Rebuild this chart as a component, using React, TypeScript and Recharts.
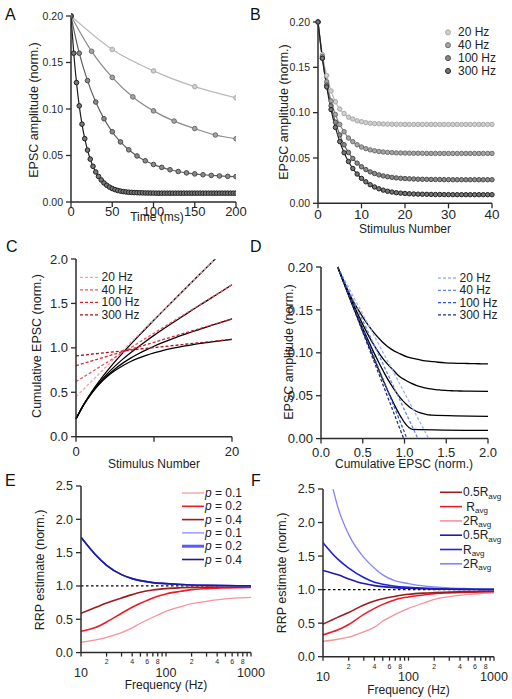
import React from 'react';
import { LineChart, Line, XAxis, YAxis, ReferenceLine } from 'recharts';

const FONT = '"Liberation Sans", Arial, Helvetica, sans-serif';

// ---------- data ----------
const FREQ_LABELS = ['20 Hz', '40 Hz', '100 Hz', '300 Hz'];
const FREQ_HZ = [20, 40, 100, 300];

// EPSC amplitude per stimulus number (n = 0 ...)
const AMP_20 = [0.2, 0.164, 0.141, 0.124, 0.112, 0.104, 0.099, 0.095, 0.093, 0.091, 0.09, 0.089, 0.0883, 0.0879, 0.0877, 0.0875, 0.0873, 0.0872, 0.0871, 0.0871, 0.087,
  0.087, 0.087, 0.087, 0.087, 0.087, 0.087, 0.087, 0.087, 0.087, 0.087, 0.087, 0.087, 0.087, 0.087, 0.087, 0.087, 0.087, 0.087, 0.087, 0.087];
const AMP_40 = [0.2, 0.162, 0.134, 0.113, 0.098, 0.087, 0.079, 0.072, 0.068, 0.0646, 0.0621, 0.0603, 0.0589, 0.0579, 0.0571, 0.0566, 0.0562, 0.0559, 0.0556, 0.0555, 0.0554,
  0.0553, 0.0552, 0.0552, 0.0551, 0.055, 0.055, 0.055, 0.055, 0.055, 0.055, 0.055, 0.055, 0.055, 0.055, 0.055, 0.055, 0.055, 0.055, 0.055, 0.055];
const AMP_100 = [0.2, 0.16, 0.1305, 0.1075, 0.0895, 0.0755, 0.0646, 0.0561, 0.0495, 0.0443, 0.0403, 0.0372, 0.0347, 0.0328, 0.0313, 0.0302, 0.0293, 0.0286, 0.028, 0.0276, 0.0273,
  0.027, 0.0268, 0.0266, 0.0265, 0.0264, 0.0263, 0.0262, 0.0262, 0.0261, 0.0261, 0.026, 0.026, 0.026, 0.026, 0.026, 0.026, 0.026, 0.026, 0.026, 0.026];
const AMP_300 = [0.2, 0.16, 0.1284, 0.1034, 0.0837, 0.0681, 0.0558, 0.0461, 0.0384, 0.0323, 0.0275, 0.0237, 0.0205, 0.018, 0.016, 0.0145, 0.0133, 0.0124, 0.0117, 0.0112, 0.0108,
  0.0105, 0.0103, 0.0101, 0.01, 0.0099, 0.0098, 0.0097, 0.0097, 0.0096, 0.0096, 0.0095, 0.0095, 0.0095, 0.0095, 0.0095, 0.0095, 0.0095, 0.0095, 0.0095, 0.0095,
  0.0095, 0.0095, 0.0095, 0.0095, 0.0095, 0.0095, 0.0095, 0.0095, 0.0095, 0.0095, 0.0095, 0.0095, 0.0095, 0.0095, 0.0095, 0.0095, 0.0095, 0.0095, 0.0095, 0.0095];
const STEADY = [0.087, 0.055, 0.026, 0.0095];

// cumulative EPSC per stimulus number (n = 0..20)
const CUM_20 = [0.2, 0.364, 0.505, 0.629, 0.741, 0.845, 0.944, 1.039, 1.132, 1.223, 1.313, 1.402, 1.49, 1.578, 1.666, 1.753, 1.84, 1.927, 2.014, 2.102, 2.189];
const CUM_40 = [0.2, 0.362, 0.496, 0.609, 0.707, 0.794, 0.873, 0.945, 1.013, 1.078, 1.14, 1.2, 1.259, 1.317, 1.374, 1.431, 1.487, 1.543, 1.598, 1.654, 1.709];
const CUM_100 = [0.2, 0.36, 0.491, 0.598, 0.688, 0.763, 0.828, 0.884, 0.933, 0.978, 1.018, 1.055, 1.09, 1.123, 1.154, 1.184, 1.213, 1.242, 1.27, 1.298, 1.325];
const CUM_300 = [0.2, 0.36, 0.488, 0.592, 0.676, 0.744, 0.799, 0.846, 0.884, 0.916, 0.944, 0.967, 0.988, 1.006, 1.022, 1.036, 1.05, 1.062, 1.074, 1.085, 1.096];

// panel C linear fits: value at n = 0 and n = 20
const FIT_C_START = [0.45, 0.62, 0.8, 0.91];
const FIT_C_END = [2.19, 1.71, 1.325, 1.096];
// panel D linear fits: start point and x-intercept
const FIT_D_START = [0.2, 0.2];
const FIT_D_XINT = [1.29, 1.16, 1.03, 0.99];

// panel E (x = frequency, Hz)
const E_FREQ = [10, 15, 20, 30, 40, 50, 70, 100, 150, 200, 300, 500, 700, 1000];
const E_RED_P01 = [0.155, 0.19, 0.23, 0.3, 0.37, 0.44, 0.53, 0.62, 0.69, 0.735, 0.77, 0.805, 0.82, 0.83];
const E_RED_P02 = [0.32, 0.38, 0.46, 0.59, 0.68, 0.74, 0.82, 0.88, 0.92, 0.945, 0.96, 0.97, 0.975, 0.978];
const E_RED_P04 = [0.59, 0.68, 0.745, 0.82, 0.87, 0.905, 0.94, 0.96, 0.972, 0.978, 0.982, 0.985, 0.987, 0.988];
const E_BLUE = [1.73, 1.46, 1.31, 1.17, 1.11, 1.08, 1.05, 1.035, 1.022, 1.015, 1.01, 1.006, 1.004, 1.003];
const E_LABELS = ['0.1', '0.2', '0.4', '0.1', '0.2', '0.4'];

// panel F
const F_FREQ = [10, 15, 20, 30, 40, 50, 70, 100, 150, 200, 300, 500, 700, 1000];
const F_RED_HALF = [0.485, 0.59, 0.66, 0.77, 0.83, 0.865, 0.9, 0.93, 0.948, 0.955, 0.962, 0.97, 0.973, 0.975];
const F_RED_ONE = [0.325, 0.4, 0.48, 0.63, 0.72, 0.78, 0.85, 0.89, 0.92, 0.94, 0.952, 0.96, 0.965, 0.97];
const F_RED_TWO = [0.23, 0.26, 0.29, 0.37, 0.44, 0.53, 0.63, 0.72, 0.8, 0.855, 0.895, 0.93, 0.942, 0.95];
const F_BLUE_HALF = [1.285, 1.22, 1.16, 1.09, 1.06, 1.045, 1.03, 1.02, 1.012, 1.008, 1.005, 1.003, 1.002, 1.001];
const F_BLUE_ONE = [1.7, 1.45, 1.32, 1.18, 1.11, 1.08, 1.05, 1.035, 1.022, 1.015, 1.01, 1.006, 1.004, 1.003];
const F_FREQ_TWO = [13.1, 15, 20, 30, 40, 50, 70, 100, 150, 200, 300, 500, 700, 1000];
const F_BLUE_TWO = [2.5, 2.22, 1.82, 1.48, 1.32, 1.22, 1.13, 1.09, 1.055, 1.04, 1.025, 1.015, 1.01, 1.006];
const F_PREFIX = ['0.5', ' ', '2', '0.5', '', '2'];

const LOG_TICKS = [10, 20, 30, 40, 50, 60, 70, 80, 90, 100, 200, 300, 400, 500, 600, 700, 800, 900, 1000];

// ---------- tables built from the arrays ----------
const AMPS = [AMP_20, AMP_40, AMP_100, AMP_300];
const CUMS = [CUM_20, CUM_40, CUM_100, CUM_300];
const dataA = AMPS.map((a, i) => a.map((y, n) => ({ x: (n * 1000) / FREQ_HZ[i], y })).filter((p) => p.x <= 200.001));
const dataB = AMPS.map((a) => a.slice(0, 41).map((y, n) => ({ x: n, y })));
const dataC = CUMS.map((c) => c.map((y, n) => ({ x: n, y })));
const dataCfit = FIT_C_START.map((b, i) => [{ x: 0, y: b }, { x: 20, y: FIT_C_END[i] }]);
const dataD = CUMS.map((c, i) => [
  ...c.map((x, n) => ({ x, y: AMPS[i][n] })).filter((p) => p.x <= 2),
  { x: 2, y: STEADY[i] },
]);
const dataDfit = FIT_D_XINT.map((xi) => [{ x: FIT_D_START[0], y: FIT_D_START[1] }, { x: xi, y: 0 }]);
const toXY = (xs: number[], ys: number[]) => ys.map((y, i) => ({ x: xs[i], y }));

// ---------- styles ----------
const GRAY_LINE = ['#b9b9b9', '#8a8a8a', '#5e5e5e', '#1e1e1e'];
const GRAY_FILL = ['#cfcfcf', '#a5a5a5', '#8a8a8a', '#777777'];
const GRAY_STROKE = ['#a9a9a9', '#6e6e6e', '#4a4a4a', '#222222'];
const RED_DASH = ['#f5a3aa', '#ec5560', '#e0202c', '#a8101c'];
const BLUE_DASH = ['#9fb4f2', '#6584e6', '#3050d6', '#22307e'];
const E_COLORS = ['#f4949a', '#ec1c24', '#9b1b1f', '#8282ff', '#5a5aff', '#1b1b9e'];
const E_WIDTHS = [1.2, 1.6, 1.6, 1.2, 3, 1.6];
const F_COLORS = ['#9b1b1f', '#ec1c24', '#f4949a', '#1c1caa', '#2222dd', '#8484ff'];

const AX = { stroke: '#2b2b2b', strokeWidth: 1.5 };
const TL = { stroke: '#2b2b2b', strokeWidth: 1.3 };
const tk = (fs: number) => ({ fontSize: fs, fill: '#262626', fontFamily: FONT });
const M = { top: 20, right: 30, bottom: 10, left: 0 };

type Rect = { x0: number; y0: number; x1: number; y1: number };
const RA: Rect = { x0: 71, y0: 15.5, x1: 236, y1: 201.5 };
const RB: Rect = { x0: 318, y0: 22, x1: 492, y1: 203.3 };
const RC: Rect = { x0: 76, y0: 259.3, x1: 232, y1: 437 };
const RD: Rect = { x0: 321, y0: 266.7, x1: 488, y1: 438.3 };
const RE: Rect = { x0: 81, y0: 485.7, x1: 251, y1: 652.3 };
const RF: Rect = { x0: 323, y0: 489, x1: 494, y1: 656.7 };

function Frame({ r, children }: { r: Rect; children: (w: number, h: number) => React.ReactNode }) {
  const w = r.x1 - r.x0 + 100;
  const h = r.y1 - r.y0 + 60;
  return (
    <div style={{ position: 'absolute', left: r.x0 - 70, top: r.y0 - 20, width: w, height: h }}>
      {children(w, h)}
    </div>
  );
}

const makeLogTick = (bigDy: number, smallDy: number) => (props: any) => {
  const { x, y, payload } = props;
  const v = payload.value as number;
  if (v === 10 || v === 100 || v === 1000) {
    return (
      <text x={x} y={y + bigDy} textAnchor="middle" fontSize={12.5} fill="#262626" fontFamily={FONT}>
        {v}
      </text>
    );
  }
  const mant = Math.round(v / Math.pow(10, Math.floor(Math.log10(v) + 1e-9)));
  if (mant % 2 === 0) {
    return (
      <text x={x} y={y + smallDy} textAnchor="middle" fontSize={7} fill="#262626" fontFamily={FONT}>
        {mant}
      </text>
    );
  }
  return <g />;
};

const YTitle = ({ x, y, fs, children }: any) => (
  <text transform={`translate(${x},${y}) rotate(-90)`} textAnchor="middle" dominantBaseline="central" fontSize={fs} fill="#222" fontFamily={FONT}>
    {children}
  </text>
);
const XTitle = ({ x, y, fs, children }: any) => (
  <text x={x} y={y} textAnchor="middle" dominantBaseline="central" fontSize={fs} fill="#222" fontFamily={FONT}>
    {children}
  </text>
);
const Letter = ({ x, y, children }: any) => (
  <text x={x} y={y} fontSize={16} fill="#111" fontFamily={FONT}>
    {children}
  </text>
);

export default function App() {
  return (
    <div style={{ position: 'absolute', left: 0, top: 0, width: 512, height: 699, background: '#fff', overflow: 'hidden' }}>
      {/* A */}
      <Frame r={RA}>
        {(w, h) => (
          <LineChart width={w} height={h} margin={M}>
            <XAxis type="number" dataKey="x" domain={[0, 200]} ticks={[0, 50, 100, 150, 200]} interval={0} height={30} axisLine={AX} tickLine={TL} tickSize={5} tickMargin={0} tick={tk(13)} allowDataOverflow />
            <YAxis type="number" domain={[0, 0.2]} ticks={[0, 0.05, 0.1, 0.15, 0.2]} interval={0} width={70} axisLine={AX} tickLine={TL} tickSize={5} tickMargin={3} tick={tk(10.5)} tickFormatter={(v: number) => v.toFixed(2)} />
            {dataA.map((d, i) => (
              <Line key={i} data={d} dataKey="y" type="monotone" stroke={GRAY_LINE[i]} strokeWidth={1.2} dot={{ r: 2.3, fill: GRAY_FILL[i], stroke: GRAY_STROKE[i], strokeWidth: 1 }} activeDot={false} isAnimationActive={false} />
            ))}
          </LineChart>
        )}
      </Frame>
      {/* B */}
      <Frame r={RB}>
        {(w, h) => (
          <LineChart width={w} height={h} margin={M}>
            <XAxis type="number" dataKey="x" domain={[0, 40]} ticks={[0, 10, 20, 30, 40]} interval={0} height={30} axisLine={AX} tickLine={TL} tickSize={5} tickMargin={1} tick={tk(13.5)} />
            <YAxis type="number" domain={[0, 0.2]} ticks={[0, 0.05, 0.1, 0.15, 0.2]} interval={0} width={70} axisLine={AX} tickLine={TL} tickSize={5} tickMargin={3} tick={tk(10.5)} tickFormatter={(v: number) => v.toFixed(2)} />
            {dataB.map((d, i) => (
              <Line key={i} data={d} dataKey="y" type="monotone" stroke={GRAY_LINE[i]} strokeWidth={1.2} dot={{ r: 2.2, fill: GRAY_FILL[i], stroke: GRAY_STROKE[i], strokeWidth: 1 }} activeDot={false} isAnimationActive={false} />
            ))}
          </LineChart>
        )}
      </Frame>
      {/* C */}
      <Frame r={RC}>
        {(w, h) => (
          <LineChart width={w} height={h} margin={M}>
            <XAxis type="number" dataKey="x" domain={[0, 20]} ticks={[0, 10, 20]} interval={0} height={30} axisLine={AX} tickLine={TL} tickSize={5} tickMargin={5} tick={tk(13)} tickFormatter={(v: number) => (v === 10 ? '' : String(v))} />
            <YAxis type="number" domain={[0, 2]} ticks={[0, 0.5, 1, 1.5, 2]} interval={0} width={70} axisLine={AX} tickLine={TL} tickSize={5} tickMargin={3} tick={tk(13)} tickFormatter={(v: number) => v.toFixed(1)} allowDataOverflow />
            {dataC.map((d, i) => (
              <Line key={'c' + i} data={d} dataKey="y" type="monotone" stroke="#000" strokeWidth={1.3} dot={false} activeDot={false} isAnimationActive={false} />
            ))}
            {dataCfit.map((d, i) => (
              <Line key={'f' + i} data={d} dataKey="y" type="linear" stroke={RED_DASH[i]} strokeWidth={1.3} strokeDasharray="3 2" dot={false} activeDot={false} isAnimationActive={false} />
            ))}
          </LineChart>
        )}
      </Frame>
      {/* D */}
      <Frame r={RD}>
        {(w, h) => (
          <LineChart width={w} height={h} margin={M}>
            <XAxis type="number" dataKey="x" domain={[0, 2]} ticks={[0, 0.5, 1, 1.5, 2]} interval={0} height={30} axisLine={AX} tickLine={TL} tickSize={5} tickMargin={4} tick={tk(13)} tickFormatter={(v: number) => v.toFixed(1)} allowDataOverflow />
            <YAxis type="number" domain={[0, 0.2]} ticks={[0, 0.05, 0.1, 0.15, 0.2]} interval={0} width={70} axisLine={AX} tickLine={TL} tickSize={5} tickMargin={3} tick={tk(13)} tickFormatter={(v: number) => v.toFixed(2)} />
            {dataD.map((d, i) => (
              <Line key={'d' + i} data={d} dataKey="y" type="monotone" stroke="#000" strokeWidth={1.3} dot={false} activeDot={false} isAnimationActive={false} />
            ))}
            {dataDfit.map((d, i) => (
              <Line key={'f' + i} data={d} dataKey="y" type="linear" stroke={BLUE_DASH[i]} strokeWidth={1.3} strokeDasharray="3 2" dot={false} activeDot={false} isAnimationActive={false} />
            ))}
          </LineChart>
        )}
      </Frame>
      {/* E */}
      <Frame r={RE}>
        {(w, h) => (
          <LineChart width={w} height={h} margin={M}>
            <XAxis type="number" dataKey="x" scale="log" domain={[10, 1000]} ticks={LOG_TICKS} interval={0} height={30} axisLine={AX} tickLine={TL} tickSize={4} tickMargin={0} tick={makeLogTick(20, 7.5)} allowDataOverflow />
            <YAxis type="number" domain={[0, 2.5]} ticks={[0, 0.5, 1, 1.5, 2, 2.5]} interval={0} width={70} axisLine={AX} tickLine={TL} tickSize={5} tickMargin={3} tick={tk(12.5)} tickFormatter={(v: number) => v.toFixed(1)} />
            <ReferenceLine y={1} stroke="#000" strokeWidth={1.2} strokeDasharray="2.5 2.5" />
            <Line data={toXY(E_FREQ, E_RED_P01)} dataKey="y" type="monotone" stroke={E_COLORS[0]} strokeWidth={1.3} dot={false} activeDot={false} isAnimationActive={false} />
            <Line data={toXY(E_FREQ, E_RED_P02)} dataKey="y" type="monotone" stroke={E_COLORS[1]} strokeWidth={1.6} dot={false} activeDot={false} isAnimationActive={false} />
            <Line data={toXY(E_FREQ, E_RED_P04)} dataKey="y" type="monotone" stroke={E_COLORS[2]} strokeWidth={1.6} dot={false} activeDot={false} isAnimationActive={false} />
            <Line data={toXY(E_FREQ, E_BLUE)} dataKey="y" type="monotone" stroke={E_COLORS[3]} strokeWidth={1.3} dot={false} activeDot={false} isAnimationActive={false} />
            <Line data={toXY(E_FREQ, E_BLUE)} dataKey="y" type="monotone" stroke={E_COLORS[4]} strokeWidth={1.6} dot={false} activeDot={false} isAnimationActive={false} />
            <Line data={toXY(E_FREQ, E_BLUE)} dataKey="y" type="monotone" stroke={E_COLORS[5]} strokeWidth={1.6} dot={false} activeDot={false} isAnimationActive={false} />
          </LineChart>
        )}
      </Frame>
      {/* F */}
      <Frame r={RF}>
        {(w, h) => (
          <LineChart width={w} height={h} margin={M}>
            <XAxis type="number" dataKey="x" scale="log" domain={[10, 1000]} ticks={LOG_TICKS} interval={0} height={30} axisLine={AX} tickLine={TL} tickSize={4} tickMargin={0} tick={makeLogTick(20.5, 8.5)} allowDataOverflow />
            <YAxis type="number" domain={[0, 2.5]} ticks={[0, 0.5, 1, 1.5, 2, 2.5]} interval={0} width={70} axisLine={AX} tickLine={TL} tickSize={5} tickMargin={3} tick={tk(12.5)} tickFormatter={(v: number) => v.toFixed(1)} allowDataOverflow />
            <ReferenceLine y={1} stroke="#000" strokeWidth={1.2} strokeDasharray="2.5 2.5" />
            <Line data={toXY(F_FREQ, F_RED_TWO)} dataKey="y" type="monotone" stroke={F_COLORS[2]} strokeWidth={1.3} dot={false} activeDot={false} isAnimationActive={false} />
            <Line data={toXY(F_FREQ, F_RED_ONE)} dataKey="y" type="monotone" stroke={F_COLORS[1]} strokeWidth={1.6} dot={false} activeDot={false} isAnimationActive={false} />
            <Line data={toXY(F_FREQ, F_RED_HALF)} dataKey="y" type="monotone" stroke={F_COLORS[0]} strokeWidth={1.6} dot={false} activeDot={false} isAnimationActive={false} />
            <Line data={toXY(F_FREQ_TWO, F_BLUE_TWO)} dataKey="y" type="monotone" stroke={F_COLORS[5]} strokeWidth={1.3} dot={false} activeDot={false} isAnimationActive={false} />
            <Line data={toXY(F_FREQ, F_BLUE_ONE)} dataKey="y" type="monotone" stroke={F_COLORS[4]} strokeWidth={1.6} dot={false} activeDot={false} isAnimationActive={false} />
            <Line data={toXY(F_FREQ, F_BLUE_HALF)} dataKey="y" type="monotone" stroke={F_COLORS[3]} strokeWidth={1.6} dot={false} activeDot={false} isAnimationActive={false} />
          </LineChart>
        )}
      </Frame>

      {/* text overlay: panel letters, axis titles, legends */}
      <svg width={512} height={699} style={{ position: 'absolute', left: 0, top: 0, pointerEvents: 'none' }}>
        <Letter x={5} y={19.5}>A</Letter>
        <Letter x={250} y={19.5}>B</Letter>
        <Letter x={6} y={251.5}>C</Letter>
        <Letter x={250} y={251.5}>D</Letter>
        <Letter x={5} y={486}>E</Letter>
        <Letter x={251} y={486}>F</Letter>

        <YTitle x={34} y={110} fs={12.5}>EPSC amplitude (norm.)</YTitle>
        <XTitle x={157} y={216.5} fs={12}>Time (ms)</XTitle>
        <YTitle x={284} y={112} fs={12.5}>EPSC amplitude (norm.)</YTitle>
        <XTitle x={405} y={229} fs={12}>Stimulus Number</XTitle>
        <YTitle x={37} y={346} fs={12.5}>Cumulative EPSC (norm.)</YTitle>
        <XTitle x={154} y={463.5} fs={12}>Stimulus Number</XTitle>
        <YTitle x={289} y={352} fs={12.5}>EPSC amplitude (norm.)</YTitle>
        <XTitle x={404} y={463.5} fs={12}>Cumulative EPSC (norm.)</XTitle>
        <YTitle x={40} y={570} fs={12.5}>RRP estimate (norm.)</YTitle>
        <XTitle x={166} y={685} fs={12}>Frequency (Hz)</XTitle>
        <YTitle x={282} y={573} fs={12.5}>RRP estimate (norm.)</YTitle>
        <XTitle x={408.5} y={689.5} fs={12}>Frequency (Hz)</XTitle>

        {/* legend B */}
        {FREQ_LABELS.map((t, i) => (
          <g key={'lb' + i}>
            <circle cx={448} cy={32.3 + i * 12.9} r={2.5} fill={GRAY_FILL[i]} stroke={GRAY_STROKE[i]} strokeWidth={1} />
            <text x={458} y={32.3 + i * 12.9} dominantBaseline="central" fontSize={12} fill="#222" fontFamily={FONT}>{t}</text>
          </g>
        ))}
        {/* legend C */}
        {FREQ_LABELS.map((t, i) => (
          <g key={'lc' + i}>
            <line x1={80} x2={98} y1={277.3 + i * 12.5} y2={277.3 + i * 12.5} stroke={RED_DASH[i]} strokeWidth={1.3} strokeDasharray="3 2" />
            <text x={101.5} y={277.3 + i * 12.5} dominantBaseline="central" fontSize={12} fill="#222" fontFamily={FONT}>{t}</text>
          </g>
        ))}
        {/* legend D */}
        {FREQ_LABELS.map((t, i) => (
          <g key={'ld' + i}>
            <line x1={438} x2={456} y1={278 + i * 12.3} y2={278 + i * 12.3} stroke={BLUE_DASH[i]} strokeWidth={1.3} strokeDasharray="3 2" />
            <text x={459.5} y={278 + i * 12.3} dominantBaseline="central" fontSize={12} fill="#222" fontFamily={FONT}>{t}</text>
          </g>
        ))}
        {/* legend E */}
        {E_LABELS.map((t, i) => (
          <g key={'le' + i}>
            <line x1={182} x2={204} y1={493 + i * 13.3} y2={493 + i * 13.3} stroke={E_COLORS[i]} strokeWidth={E_WIDTHS[i]} />
            <text x={205} y={493 + i * 13.3} dominantBaseline="central" fontSize={12} fill="#222" fontFamily={FONT}>
              <tspan fontStyle="italic">p</tspan>{' = ' + t}
            </text>
          </g>
        ))}
        {/* legend F */}
        {F_PREFIX.map((t, i) => (
          <g key={'lf' + i}>
            <line x1={440} x2={462} y1={492.3 + i * 14.3} y2={492.3 + i * 14.3} stroke={F_COLORS[i]} strokeWidth={1.6} />
            <text x={463} y={492.3 + i * 14.3} dominantBaseline="central" fontSize={12} fill="#222" fontFamily={FONT} xmlSpace="preserve">
              {t}R<tspan fontSize={8} dy={3.5}>avg</tspan>
            </text>
          </g>
        ))}
      </svg>
    </div>
  );
}
